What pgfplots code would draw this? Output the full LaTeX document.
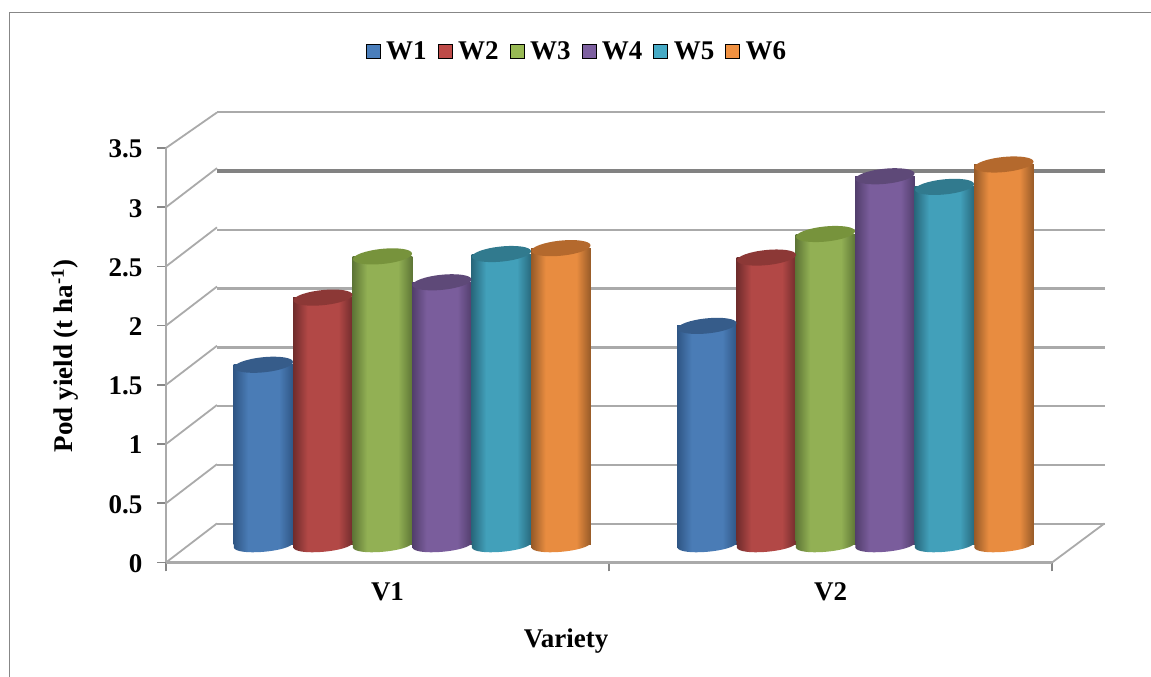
\documentclass[border=0pt]{standalone}
\usepackage{pgfplots}
\pgfplotsset{compat=1.18}
\usepackage{fontspec}
\setmainfont{Liberation Serif}
\definecolor{fr}{RGB}{135,135,135}
\definecolor{gl}{RGB}{170,170,170}
\definecolor{glt}{RGB}{130,130,130}
\newcommand{\defcyl}[5]{%
  \definecolor{#1mid}{RGB}{#2}\definecolor{#1edge}{RGB}{#3}\definecolor{#1top}{RGB}{#4}%
  \pgfdeclarehorizontalshading{#1shade}{100bp}{color(0bp)=(#1edge); color(25bp)=(#1edge); color(37bp)=(#1mid); color(63bp)=(#1mid); color(75bp)=(#1edge); color(100bp)=(#1edge)}%
  \pgfdeclareplotmark{#1cap}{\pgfpathellipse{\pgfpointorigin}{\pgfqpoint{29.5pt}{3pt}}{\pgfqpoint{-0.8pt}{7.5pt}}\pgfsetfillcolor{#1top}\pgfusepathqfill}%
  \pgfdeclareplotmark{#1base}{\pgfpathmoveto{\pgfqpoint{-29.7pt}{4pt}}%
    \pgfpathlineto{\pgfqpoint{-29.7pt}{-2.5pt}}%
    \pgfpathcurveto{\pgfqpoint{-29pt}{-6.5pt}}{\pgfqpoint{-16pt}{-8.2pt}}{\pgfqpoint{0pt}{-6.8pt}}%
    \pgfpathcurveto{\pgfqpoint{16pt}{-5.5pt}}{\pgfqpoint{29.5pt}{-1.5pt}}{\pgfqpoint{29.7pt}{2.5pt}}%
    \pgfpathlineto{\pgfqpoint{29.7pt}{4pt}}%
    \pgfpathclose\pgfshadepath{#1shade}{0}\pgfusepath{discard}}%
  \definecolor{#1leg}{RGB}{#5}%
}
\defcyl{a}{74,124,182}{47,86,133}{54,92,138}{74,126,187}
\defcyl{b}{178,72,70}{112,44,44}{140,56,54}{190,75,72}
\defcyl{c}{146,176,84}{94,118,54}{119,147,60}{152,185,84}
\defcyl{d}{122,93,156}{82,62,108}{94,73,120}{125,96,160}
\defcyl{e}{66,160,186}{40,104,124}{49,122,142}{70,170,197}
\defcyl{f}{232,140,64}{150,90,40}{180,105,45}{240,145,65}
% one cylinder: letter, x position, value
\newcommand{\cyl}[3]{%
  \addplot[forget plot,only marks,mark=#1base] coordinates {(#2,0)};
  \addplot[forget plot,ybar,bar width=59.6pt,bar shift=0pt,draw=none,shade,shading=#1shade] coordinates {(#2,#3)};
  \addplot[forget plot,only marks,mark=#1cap] coordinates {(#2,#3)};
}
\newcommand{\fsz}{\fontsize{27}{30}\selectfont\bfseries}
\begin{document}
\begin{tikzpicture}[x=1pt,y=1pt]
\path[use as bounding box,fill=white] (0,0) rectangle (1151,677);
\draw[fr,line width=1.3pt] (9.5,0) -- (9.5,664.5) -- (1151,664.5);
% back wall
\begin{axis}[at={(217pt,153pt)},anchor=south west,scale only axis,width=888pt,height=412pt,
  xmin=0,xmax=1,ymin=0,ymax=3.5,
  axis line style={draw=none},major tick length=0pt,
  xtick=\empty,yticklabels={},
  ytick={0,0.5,1,1.5,2,2.5,3.5},ymajorgrids,
  grid style={gl,line width=2.3pt},clip=false]
\addplot[glt,line width=3.4pt,forget plot] coordinates {(0,3)(1,3)};
\end{axis}
% front axes
\begin{axis}[at={(166pt,114.5pt)},anchor=south west,scale only axis,width=886pt,height=414.5pt,
  xmin=0,xmax=2,ymin=0,ymax=3.5,clip=false,
  axis lines=left,axis line style={-,gl,line width=2.8pt},
  tick align=outside,major tick length=9pt,
  tick style={fr,line width=1.6pt},
  xtick={0,1,2},xticklabels={,,},
  extra x ticks={0.5,1.5},extra x tick labels={V1,V2},
  extra x tick style={major tick length=0pt,xticklabel style={yshift=-17pt}},
  ytick={0,0.5,1,1.5,2,2.5,3,3.5},
  yticklabels={0,0.5,1,1.5,2,2.5,3,3.5},
  tick label style={font=\fsz},
  yticklabel style={xshift=-11pt,yshift=-1pt},
  /pgf/number format/assume math mode=true]
\addplot[gl,line width=1.8pt,forget plot] coordinates {(0,0)(0.1151,0.33)};
\addplot[gl,line width=1.8pt,forget plot] coordinates {(0,0.5)(0.1151,0.83)};
\addplot[gl,line width=1.8pt,forget plot] coordinates {(0,1)(0.1151,1.33)};
\addplot[gl,line width=1.8pt,forget plot] coordinates {(0,1.5)(0.1151,1.83)};
\addplot[gl,line width=1.8pt,forget plot] coordinates {(0,2)(0.1151,2.33)};
\addplot[gl,line width=1.8pt,forget plot] coordinates {(0,2.5)(0.1151,2.83)};
\addplot[gl,line width=1.8pt,forget plot] coordinates {(0,3)(0.1151,3.33)};
\addplot[gl,line width=1.8pt,forget plot] coordinates {(0,3.5)(0.1151,3.8)};
\addplot[gl,line width=1.8pt,forget plot] coordinates {(2,0)(2.1185,0.33)};
\end{axis}
% bars
\begin{axis}[at={(0pt,0pt)},anchor=south west,scale only axis,width=1151pt,height=677pt,
  xmin=0,xmax=1151,ymin=-1.1205,ymax=4.6265,clip=false,
  axis lines=none,
  legend columns=6,
  legend style={at={(577pt,625.5pt)},anchor=center,draw=none,fill=none,
    font=\fsz,
    /tikz/every odd column/.append style={column sep=4pt},
    /tikz/every even column/.append style={column sep=9pt}},
  legend cell align=left,
  legend image code/.code={\fill[#1] (0pt,-7pt) rectangle (14pt,7pt);}]
\addlegendimage{fill=aleg}\addlegendentry{W1}
\addlegendimage{fill=bleg}\addlegendentry{W2}
\addlegendimage{fill=cleg}\addlegendentry{W3}
\addlegendimage{fill=dleg}\addlegendentry{W4}
\addlegendimage{fill=eleg}\addlegendentry{W5}
\addlegendimage{fill=fleg}\addlegendentry{W6}
\cyl{a}{263.5}{1.53}\cyl{a}{707}{1.86}
\cyl{b}{323}{2.10}\cyl{b}{766.5}{2.44}
\cyl{c}{382.5}{2.45}\cyl{c}{825.5}{2.64}
\cyl{d}{442}{2.23}\cyl{d}{885}{3.13}
\cyl{e}{501.5}{2.47}\cyl{e}{944.5}{3.04}
\cyl{f}{561}{2.52}\cyl{f}{1004}{3.23}
\end{axis}
\node[rotate=90,font=\fsz] at (65,321) {Pod yield (t ha\textsuperscript{-1})};
\node[font=\fsz] at (566,36) {Variety};
\end{tikzpicture}
\end{document}
